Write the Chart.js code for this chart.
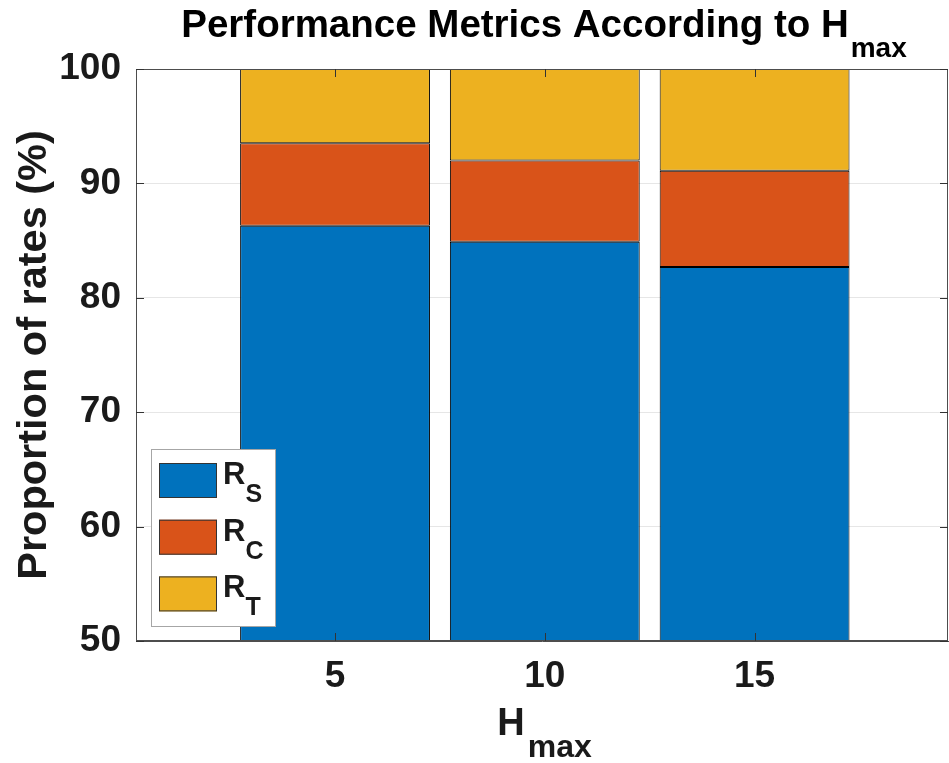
<!DOCTYPE html>
<html>
<head>
<meta charset="utf-8">
<script src="https://cdn.jsdelivr.net/npm/chart.js@4/dist/chart.umd.min.js"></script>
<style>
  html, body { margin: 0; padding: 0; background: #ffffff; }
  #wrap { width: 949px; height: 763px; }
</style>
</head>
<body>
<div id="wrap"><canvas id="c" width="949" height="763"></canvas></div>
<script>
// ---- data ----
const categories = [5, 10, 15];
const xTickLabels = ['5', '10', '15'];
const rsValues = [86.3, 84.9, 82.7];
const rcValues = [7.2, 7.1, 8.4];
const rtValues = [6.5, 8.0, 8.9];
const yTicks = [50, 60, 70, 80, 90, 100];
const seriesBase = ['R', 'R', 'R'];
const seriesSub = ['S', 'C', 'T'];
const titleMain = 'Performance Metrics According to H';
const titleSub = 'max';
const xLabelMain = 'H';
const xLabelSub = 'max';
const yLabelText = 'Proportion of rates (%)';

// ---- styles ----
const colors = ['#0072BD', '#D95319', '#EDB120'];
const FONT = '"Liberation Sans", Arial, Helvetica, sans-serif';
const TXT = '#1a1a1a';
const AXIS = '#4d4d4d';

function pts(vals) { return vals.map((v, i) => ({ x: categories[i], y: v })); }
const seriesValues = [rsValues, rcValues, rtValues];

const datasets = seriesValues.map((vals, i) => ({
  label: seriesBase[i] + '_' + seriesSub[i],
  data: pts(vals),
  backgroundColor: colors[i],
  borderColor: '#000000',
  borderWidth: 1,
  borderSkipped: false,
  barPercentage: 0.905,
  categoryPercentage: 1.0
}));

const decorPlugin = {
  id: 'decor',
  afterDatasetsDraw(chart) {
    const { ctx, chartArea: a, scales } = chart;
    const xs = scales.x, ys = scales.y;
    ctx.save();
    // box
    ctx.strokeStyle = AXIS;
    ctx.lineWidth = 1;
    ctx.beginPath();
    ctx.moveTo(a.left, a.top + 0.5); ctx.lineTo(a.right, a.top + 0.5);
    ctx.moveTo(a.right - 0.5, a.top); ctx.lineTo(a.right - 0.5, a.bottom);
    ctx.moveTo(a.left + 0.5, a.top); ctx.lineTo(a.left + 0.5, a.bottom);
    ctx.moveTo(a.left, a.bottom - 0.5); ctx.lineTo(a.right, a.bottom - 0.5);
    ctx.stroke();
    // inward ticks
    const tl = 8;
    ctx.strokeStyle = '#333333';
    ctx.beginPath();
    yTicks.forEach(v => {
      const y = Math.round(ys.getPixelForValue(v)) + 0.5;
      ctx.moveTo(a.left, y); ctx.lineTo(a.left + tl, y);
      ctx.moveTo(a.right, y); ctx.lineTo(a.right - tl, y);
    });
    categories.forEach(v => {
      const x = Math.round(xs.getPixelForValue(v)) + 0.5;
      ctx.moveTo(x, a.bottom); ctx.lineTo(x, a.bottom - tl);
      ctx.moveTo(x, a.top); ctx.lineTo(x, a.top + tl);
    });
    ctx.stroke();

    // legend
    const lx = a.left + 15, lw = 124, lh = 177;
    const ly = a.bottom - 15 - lh;
    ctx.fillStyle = '#ffffff';
    ctx.fillRect(lx, ly, lw, lh);
    ctx.strokeStyle = '#a6a6a6';
    ctx.strokeRect(lx + 0.5, ly + 0.5, lw, lh);
    for (let i = 0; i < seriesBase.length; i++) {
      const sy = ly + 14 + i * 56.7;
      ctx.fillStyle = colors[i];
      ctx.fillRect(lx + 8, sy, 58, 35);
      ctx.strokeStyle = '#333333';
      ctx.strokeRect(lx + 8.5, sy + 0.5, 57, 34);
      ctx.fillStyle = TXT;
      ctx.textAlign = 'left';
      ctx.textBaseline = 'alphabetic';
      ctx.font = 'bold 31px ' + FONT;
      ctx.fillText(seriesBase[i], lx + 72, sy + 21);
      const rw = ctx.measureText(seriesBase[i]).width;
      ctx.font = 'bold 25px ' + FONT;
      ctx.fillText(seriesSub[i], lx + 72 + rw, sy + 39);
    }

    // title
    const cx = (a.left + a.right) / 2 + 1;
    ctx.fillStyle = '#000000';
    ctx.font = 'bold 38.5px ' + FONT;
    const w1 = ctx.measureText(titleMain).width;
    ctx.font = 'bold 28px ' + FONT;
    const w2 = ctx.measureText(titleSub).width;
    const tx = cx - (w1 + w2) / 2;
    ctx.font = 'bold 38.5px ' + FONT;
    ctx.fillText(titleMain, tx, 37);
    ctx.font = 'bold 28px ' + FONT;
    ctx.fillText(titleSub, tx + w1 + 2, 57);

    // x label
    ctx.fillStyle = TXT;
    const xc = (a.left + a.right) / 2 + 2;
    ctx.font = 'bold 38px ' + FONT;
    const h1 = ctx.measureText(xLabelMain).width;
    ctx.font = 'bold 32px ' + FONT;
    const h2 = ctx.measureText(xLabelSub).width;
    const hx = xc - (h1 + h2 + 2) / 2;
    ctx.font = 'bold 38px ' + FONT;
    ctx.fillText(xLabelMain, hx, 735);
    ctx.font = 'bold 32px ' + FONT;
    ctx.fillText(xLabelSub, hx + h1 + 3, 757);

    // y label
    ctx.save();
    ctx.translate(46, (a.top + a.bottom) / 2);
    ctx.rotate(-Math.PI / 2);
    ctx.textAlign = 'center';
    ctx.textBaseline = 'alphabetic';
    ctx.font = 'bold 41.5px ' + FONT;
    ctx.fillText(yLabelText, 0, 0);
    ctx.restore();

    ctx.restore();
  }
};

new Chart(document.getElementById('c'), {
  type: 'bar',
  data: { datasets },
  plugins: [decorPlugin],
  options: {
    responsive: false,
    animation: false,
    devicePixelRatio: 1,
    layout: { padding: { top: 69, right: 1, left: 0, bottom: 0 } },
    plugins: { legend: { display: false }, title: { display: false }, tooltip: { enabled: false } },
    scales: {
      x: {
        type: 'linear',
        stacked: true,
        offset: false,
        min: 0.256,
        max: 19.61,
        afterBuildTicks(scale) { scale.ticks = categories.map(v => ({ value: v })); },
        afterFit(scale) { scale.height = 122; },
        grid: { display: false, drawTicks: false, offset: false },
        border: { display: true, color: AXIS, width: 1 },
        ticks: {
          autoSkip: false,
          maxRotation: 0,
          padding: 14,
          color: TXT,
          font: { family: FONT, size: 37, weight: 'bold' },
          callback(v) { const i = categories.indexOf(v); return i >= 0 ? xTickLabels[i] : ''; }
        }
      },
      y: {
        type: 'linear',
        stacked: true,
        min: 50,
        max: 100,
        afterBuildTicks(scale) { scale.ticks = yTicks.map(v => ({ value: v })); },
        afterFit(scale) { scale.width = 136; },
        grid: { color: '#e6e6e6', lineWidth: 1, drawTicks: false },
        border: { display: true, color: AXIS, width: 1 },
        ticks: {
          padding: 15,
          color: TXT,
          font: { family: FONT, size: 37, weight: 'bold' }
        }
      }
    }
  }
});
</script>
</body>
</html>
